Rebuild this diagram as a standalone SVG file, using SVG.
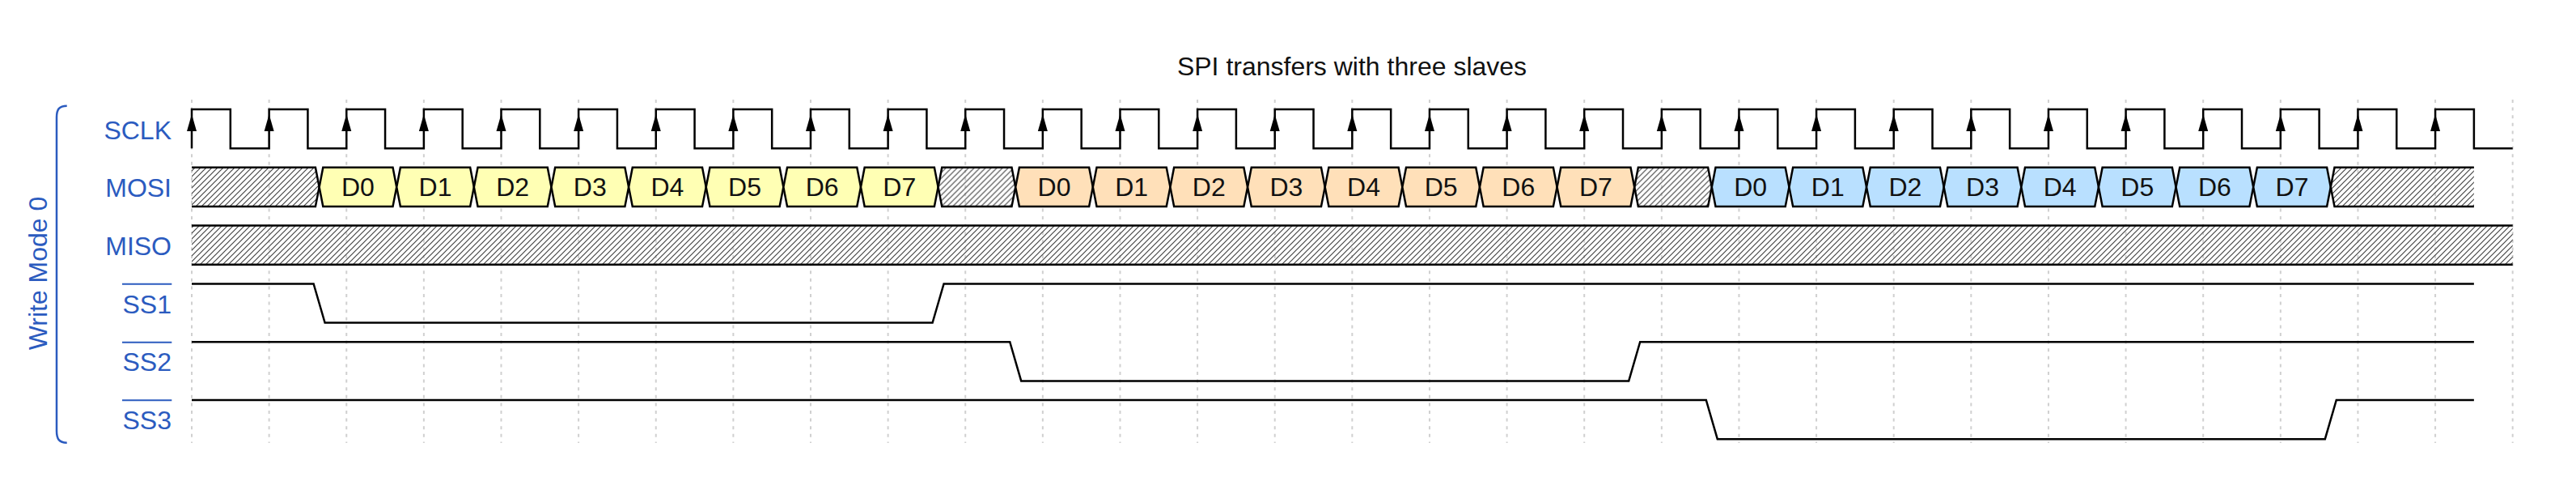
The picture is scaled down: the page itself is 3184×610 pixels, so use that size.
<svg xmlns="http://www.w3.org/2000/svg" xmlns:xlink="http://www.w3.org/1999/xlink" width="3184" height="610" viewBox="0 0 3184 610">
<style>
.lbl{font-family:"Liberation Sans",Arial,sans-serif;font-size:32px;fill:#2b5bbf;text-anchor:end}
.dat{font-family:"Liberation Sans",Arial,sans-serif;font-size:32px;fill:#111;text-anchor:middle}
.sig{fill:none;stroke:#000;stroke-width:2.5;stroke-linejoin:miter}
.blk{stroke:#000;stroke-width:2.5}
.y{fill:#ffffb4}.o{fill:#ffe0b9}.b{fill:#b9e0ff}.h{fill:url(#hatch)}
.grid{fill:none;stroke:#d0d0d0;stroke-width:2;stroke-dasharray:4,5.6}
.ovl{stroke:#2b5bbf;stroke-width:2}
</style>
<defs>
<pattern id="hatch" width="7" height="7" patternUnits="userSpaceOnUse">
<path d="M-1,1 L1,-1 M0,7 L7,0 M6,8 L8,6" stroke="#444" stroke-width="1.2"/>
</pattern>
<path id="hex" d="M0,0 L4.7,-24.1 L90.92,-24.1 L95.62,0 L90.92,24.1 L4.7,24.1 Z"/>
<path id="arr" d="M0,-10.5 L-6,10.5 L6,10.5 Z" fill="#000"/>
</defs>
<rect width="3184" height="610" fill="#fff"/>
<text x="1671" y="92.7" font-family="Liberation Sans,Arial,sans-serif" font-size="32" fill="#111" text-anchor="middle">SPI transfers with three slaves</text>

<g id="grid">
<path class="grid" d="M237,123V547M332.62,123V547M428.25,123V547M523.87,123V547M619.49,123V547M715.12,123V547M810.74,123V547M906.36,123V547M1001.98,123V547M1097.61,123V547M1193.23,123V547M1288.85,123V547M1384.48,123V547M1480.1,123V547M1575.72,123V547M1671.35,123V547M1766.97,123V547M1862.59,123V547M1958.21,123V547M2053.84,123V547M2149.46,123V547M2245.08,123V547M2340.71,123V547M2436.33,123V547M2531.95,123V547M2627.58,123V547M2723.2,123V547M2818.82,123V547M2914.44,123V547M3010.07,123V547M3105.69,123V547"/>
</g>

<g id="group-label">
<path d="M82.7,130.7 C73,130.7 70,135 70,145 L70,532 C70,542 73,546.7 82.7,546.7" fill="none" stroke="#2b5bbf" stroke-width="2.5"/>
<text transform="translate(58.3,337.5) rotate(-90)" font-family="Liberation Sans,Arial,sans-serif" font-size="32" fill="#2b5bbf" text-anchor="middle">Write Mode 0</text>
</g>

<g id="sclk">
<text class="lbl" x="212" y="171.7">SCLK</text>
<path class="sig" d="M237,183.2V135H284.81V183.2H332.62V135H380.43V183.2H428.25V135H476.06V183.2H523.87V135H571.68V183.2H619.49V135H667.3V183.2H715.12V135H762.93V183.2H810.74V135H858.55V183.2H906.36V135H954.17V183.2H1001.98V135H1049.79V183.2H1097.61V135H1145.42V183.2H1193.23V135H1241.04V183.2H1288.85V135H1336.66V183.2H1384.48V135H1432.29V183.2H1480.1V135H1527.91V183.2H1575.72V135H1623.53V183.2H1671.35V135H1719.16V183.2H1766.97V135H1814.78V183.2H1862.59V135H1910.4V183.2H1958.21V135H2006.02V183.2H2053.84V135H2101.65V183.2H2149.46V135H2197.27V183.2H2245.08V135H2292.89V183.2H2340.71V135H2388.52V183.2H2436.33V135H2484.14V183.2H2531.95V135H2579.76V183.2H2627.58V135H2675.39V183.2H2723.2V135H2771.01V183.2H2818.82V135H2866.63V183.2H2914.44V135H2962.25V183.2H3010.07V135H3057.88V183.2H3105.69"/>
<use xlink:href="#arr" x="237" y="151.5"/><use xlink:href="#arr" x="332.62" y="151.5"/><use xlink:href="#arr" x="428.25" y="151.5"/><use xlink:href="#arr" x="523.87" y="151.5"/><use xlink:href="#arr" x="619.49" y="151.5"/><use xlink:href="#arr" x="715.12" y="151.5"/><use xlink:href="#arr" x="810.74" y="151.5"/><use xlink:href="#arr" x="906.36" y="151.5"/><use xlink:href="#arr" x="1001.98" y="151.5"/><use xlink:href="#arr" x="1097.61" y="151.5"/><use xlink:href="#arr" x="1193.23" y="151.5"/><use xlink:href="#arr" x="1288.85" y="151.5"/><use xlink:href="#arr" x="1384.48" y="151.5"/><use xlink:href="#arr" x="1480.1" y="151.5"/><use xlink:href="#arr" x="1575.72" y="151.5"/><use xlink:href="#arr" x="1671.35" y="151.5"/><use xlink:href="#arr" x="1766.97" y="151.5"/><use xlink:href="#arr" x="1862.59" y="151.5"/><use xlink:href="#arr" x="1958.21" y="151.5"/><use xlink:href="#arr" x="2053.84" y="151.5"/><use xlink:href="#arr" x="2149.46" y="151.5"/><use xlink:href="#arr" x="2245.08" y="151.5"/><use xlink:href="#arr" x="2340.71" y="151.5"/><use xlink:href="#arr" x="2436.33" y="151.5"/><use xlink:href="#arr" x="2531.95" y="151.5"/><use xlink:href="#arr" x="2627.58" y="151.5"/><use xlink:href="#arr" x="2723.2" y="151.5"/><use xlink:href="#arr" x="2818.82" y="151.5"/><use xlink:href="#arr" x="2914.44" y="151.5"/><use xlink:href="#arr" x="3010.07" y="151.5"/>
</g>

<g id="mosi">
<text class="lbl" x="212" y="243.3">MOSI</text>
<path class="h" d="M237,206.8H389.9L394.6,230.9L389.9,255H237Z"/>
<path class="sig" d="M237,206.8H389.9L394.6,230.9L389.9,255H237"/>
<g class="blk">
<use xlink:href="#hex" class="y" x="394.6" y="230.9"/><use xlink:href="#hex" class="y" x="490.22" y="230.9"/><use xlink:href="#hex" class="y" x="585.85" y="230.9"/><use xlink:href="#hex" class="y" x="681.47" y="230.9"/><use xlink:href="#hex" class="y" x="777.09" y="230.9"/><use xlink:href="#hex" class="y" x="872.72" y="230.9"/><use xlink:href="#hex" class="y" x="968.34" y="230.9"/><use xlink:href="#hex" class="y" x="1063.96" y="230.9"/>
<use xlink:href="#hex" class="h" x="1159.58" y="230.9"/>
<use xlink:href="#hex" class="o" x="1255.21" y="230.9"/><use xlink:href="#hex" class="o" x="1350.83" y="230.9"/><use xlink:href="#hex" class="o" x="1446.45" y="230.9"/><use xlink:href="#hex" class="o" x="1542.08" y="230.9"/><use xlink:href="#hex" class="o" x="1637.7" y="230.9"/><use xlink:href="#hex" class="o" x="1733.32" y="230.9"/><use xlink:href="#hex" class="o" x="1828.95" y="230.9"/><use xlink:href="#hex" class="o" x="1924.57" y="230.9"/>
<use xlink:href="#hex" class="h" x="2020.19" y="230.9"/>
<use xlink:href="#hex" class="b" x="2115.81" y="230.9"/><use xlink:href="#hex" class="b" x="2211.44" y="230.9"/><use xlink:href="#hex" class="b" x="2307.06" y="230.9"/><use xlink:href="#hex" class="b" x="2402.68" y="230.9"/><use xlink:href="#hex" class="b" x="2498.31" y="230.9"/><use xlink:href="#hex" class="b" x="2593.93" y="230.9"/><use xlink:href="#hex" class="b" x="2689.55" y="230.9"/><use xlink:href="#hex" class="b" x="2785.18" y="230.9"/>
</g>
<path class="h" d="M3057.88,206.8H2885.5L2880.8,230.9L2885.5,255H3057.88Z"/>
<path class="sig" d="M3057.88,206.8H2885.5L2880.8,230.9L2885.5,255H3057.88"/>
<text class="dat" x="442.41" y="242">D0</text><text class="dat" x="538.03" y="242">D1</text><text class="dat" x="633.66" y="242">D2</text><text class="dat" x="729.28" y="242">D3</text><text class="dat" x="824.9" y="242">D4</text><text class="dat" x="920.53" y="242">D5</text><text class="dat" x="1016.15" y="242">D6</text><text class="dat" x="1111.77" y="242">D7</text>
<text class="dat" x="1303.02" y="242">D0</text><text class="dat" x="1398.64" y="242">D1</text><text class="dat" x="1494.26" y="242">D2</text><text class="dat" x="1589.89" y="242">D3</text><text class="dat" x="1685.51" y="242">D4</text><text class="dat" x="1781.13" y="242">D5</text><text class="dat" x="1876.76" y="242">D6</text><text class="dat" x="1972.38" y="242">D7</text>
<text class="dat" x="2163.62" y="242">D0</text><text class="dat" x="2259.25" y="242">D1</text><text class="dat" x="2354.87" y="242">D2</text><text class="dat" x="2450.49" y="242">D3</text><text class="dat" x="2546.12" y="242">D4</text><text class="dat" x="2641.74" y="242">D5</text><text class="dat" x="2737.36" y="242">D6</text><text class="dat" x="2832.99" y="242">D7</text>
</g>

<g id="miso">
<text class="lbl" x="212" y="315">MISO</text>
<rect class="h" x="237" y="278.6" width="2868.69" height="48.2"/>
<path class="sig" d="M237,278.6H3105.69M237,326.8H3105.69"/>
</g>

<g id="ss1">
<text class="lbl" x="212" y="386.7">SS1</text>
<line class="ovl" x1="151" y1="350.7" x2="212.3" y2="350.7"/>
<path class="sig" d="M237,350.4H387.6L401.6,398.6H1152.58L1166.58,350.4H3057.88"/>
</g>

<g id="ss2">
<text class="lbl" x="212" y="458.3">SS2</text>
<line class="ovl" x1="151" y1="422.7" x2="212.3" y2="422.7"/>
<path class="sig" d="M237,422.2H1248.21L1262.21,470.4H2013.19L2027.19,422.2H3057.88"/>
</g>

<g id="ss3">
<text class="lbl" x="212" y="530">SS3</text>
<line class="ovl" x1="151" y1="494.3" x2="212.3" y2="494.3"/>
<path class="sig" d="M237,494H2108.81L2122.81,542.2H2873.8L2887.8,494H3057.88"/>
</g>
</svg>
